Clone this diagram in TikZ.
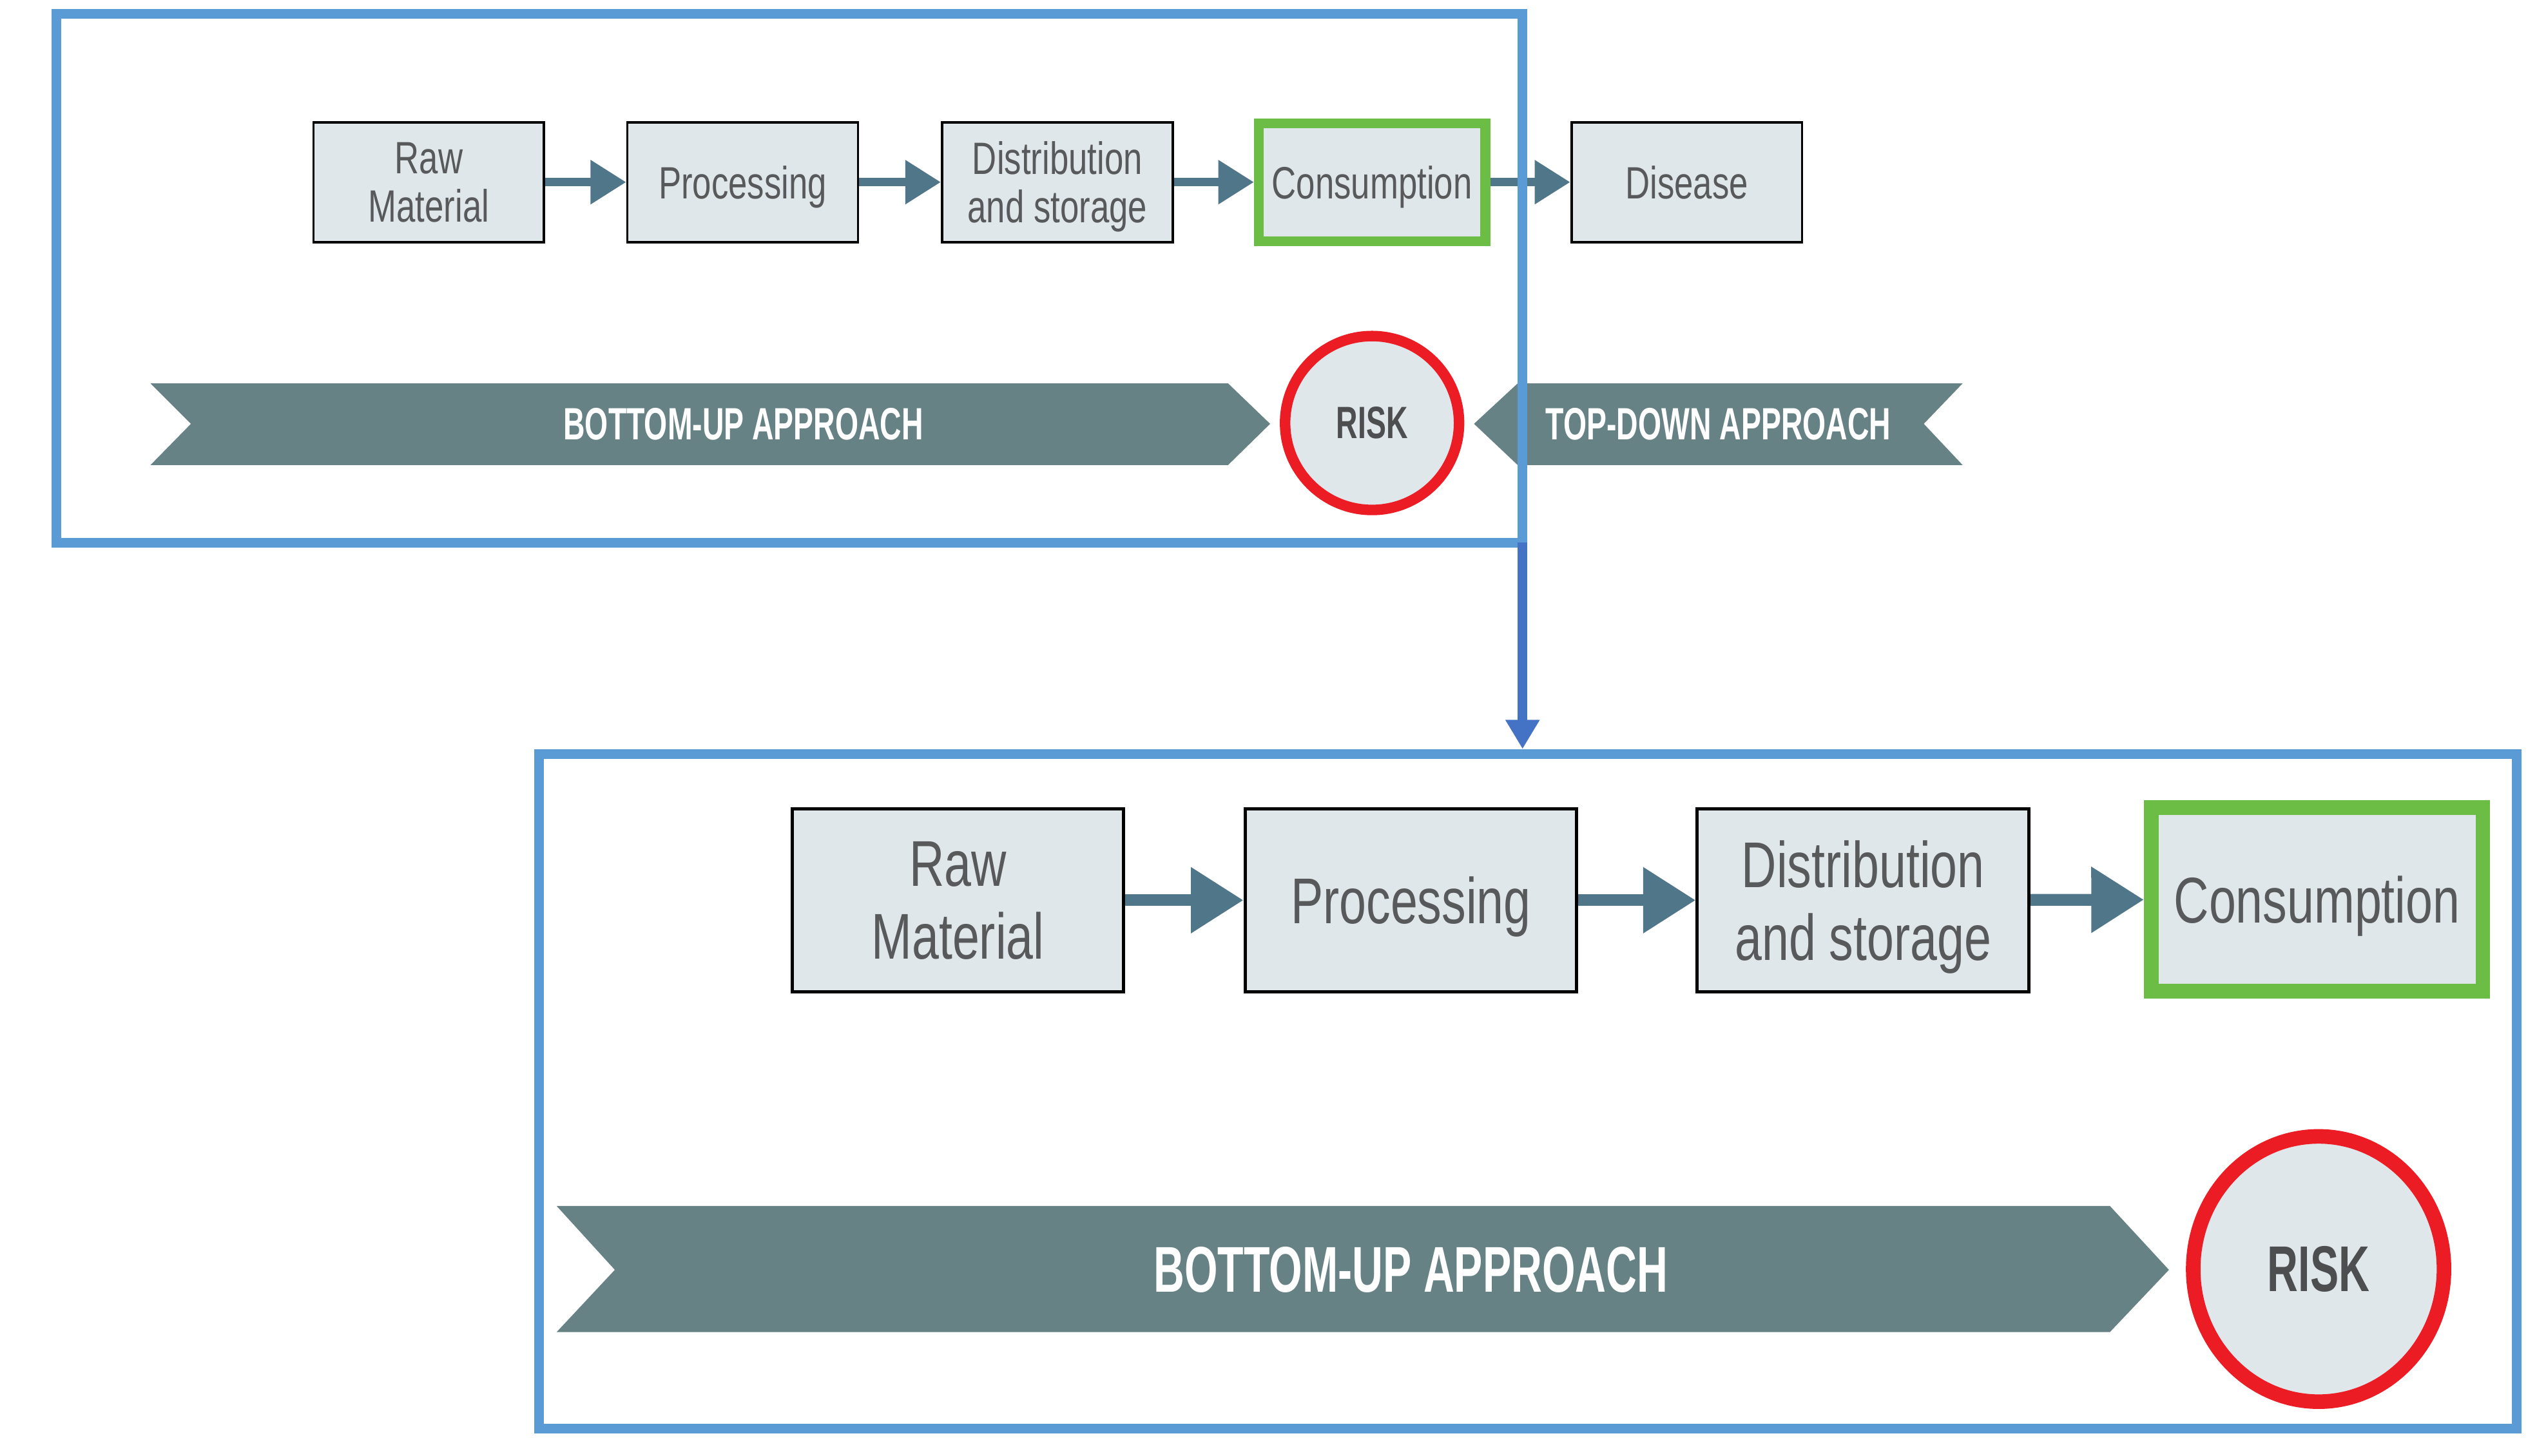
\documentclass[tikz,border=0pt]{standalone}
\usepackage{fontspec}
\usepackage{tikz}
\usetikzlibrary{arrows.meta,shapes.geometric}
\newfontfamily\stagefont[FakeStretch=0.75]{Liberation Sans}
\newfontfamily\bannerfont[FakeStretch=0.66]{Liberation Sans Bold}
\definecolor{boxfill}{RGB}{224,231,234}
\definecolor{boxtext}{RGB}{88,89,91}
\definecolor{risktext}{RGB}{77,78,80}
\definecolor{riskred}{RGB}{236,28,36}
\definecolor{focusgreen}{RGB}{108,189,69}
\definecolor{bannerteal}{RGB}{102,130,132}
\definecolor{flowblue}{RGB}{80,118,137}
\definecolor{frameblue}{RGB}{91,155,213}
\definecolor{linkblue}{RGB}{68,114,196}

\begin{document}
\begin{tikzpicture}[x=1pt,y=1pt,yscale=-1,
  stage/.style={draw=black, line width=1.5pt, fill=boxfill, text=boxtext, align=center, inner sep=0pt,
    text depth=0pt, minimum width=142.5pt, minimum height=74pt, font=\stagefont\fontsize{28}{30}\selectfont},
  stagebig/.style={stage, line width=2pt, minimum width=205pt, minimum height=113pt,
    font=\stagefont\fontsize{40}{45}\selectfont},
  focus/.style={draw=focusgreen, line width=6pt, minimum width=140pt, minimum height=73pt},
  focusbig/.style={draw=focusgreen, line width=9pt, minimum width=205pt, minimum height=113.5pt},
  risk/.style={circle, draw=riskred, line width=6.5pt, fill=boxfill, text=risktext, inner sep=0pt,
    minimum size=107.5pt, font=\bannerfont\fontsize{28}{30}\selectfont},
  riskbig/.style={ellipse, draw=riskred, line width=9pt, fill=boxfill, text=risktext, inner sep=0pt,
    minimum width=155pt, minimum height=164pt, font=\bannerfont\fontsize{40}{44}\selectfont},
  bannertext/.style={text=white, inner sep=0pt, font=\bannerfont\fontsize{28}{30}\selectfont},
  bannertextbig/.style={bannertext, font=\bannerfont\fontsize{40}{44}\selectfont},
  flow/.style={draw=flowblue, line width=5.3pt, -{Triangle[length=22pt,width=26pt]}},
  flowbig/.style={draw=flowblue, line width=7.3pt, -{Triangle[length=32.5pt,width=39pt]}},
  frame/.style={draw=frameblue, line width=6pt, inner sep=0pt, outer sep=0pt},
  link/.style={draw=linkblue, line width=6pt, shorten >=3pt, -{Triangle[length=18pt,width=20pt]}}
]
\path[use as bounding box, fill=white] (0,0) rectangle (1568,900);

%Banners: upper stage
\fill[bannerteal] (93,237) -- (759,237) -- (785,262) -- (759,287.5) -- (93,287.5) -- (118,262) -- cycle;
\fill[bannerteal] (911,262) -- (938,237) -- (1213,237) -- (1189,262) -- (1213,287.5) -- (938,287.5) -- cycle;
\node[bannertext] (bu1) at (459.5,262) {BOTTOM-UP APPROACH};
\node[bannertext] (td1) at (1062,262) {TOP-DOWN APPROACH};

%Banner: lower stage
\fill[bannerteal] (344,745.5) -- (1304,745.5) -- (1340.5,785) -- (1304,823.5) -- (344,823.5) -- (380,785) -- cycle;
\node[bannertextbig] (bu2) at (872,785) {BOTTOM-UP APPROACH};

%Chain: upper stage
\node[stage] (raw1) at (265,112.6) {Raw\\Material};
\node[stage] (proc1) at (459,112.6) {Processing};
\node[stage] (dist1) at (653.5,112.6) {Distribution\\and storage};
\node[stage, focus] (cons1) at (848,112.6) {Consumption};
\node[stage] (dis1) at (1042.5,112.6) {Disease};
\foreach \a/\b in {raw1/proc1, proc1/dist1, dist1/cons1, cons1/dis1}
  \draw[flow] (\a) -- (\b);
\node[risk] (risk1) at (848,261.5) {RISK};

%Chain: lower stage
\node[stagebig] (raw2) at (592,556.5) {Raw\\Material};
\node[stagebig] (proc2) at (872,556.5) {Processing};
\node[stagebig] (dist2) at (1151.5,556.5) {Distribution\\and storage};
\node[stagebig, focusbig] (cons2) at (1432,556) {Consumption};
\foreach \a/\b in {raw2/proc2, proc2/dist2, dist2/cons2}
  \draw[flowbig] (\a) -- (\b);
\node[riskbig] (risk2) at (1433,784.5) {RISK};

%Frames and zoom link
\node[frame, minimum width=906.2pt, minimum height=327.1pt] (upper) at (487.9,171.95) {};
\node[frame, minimum width=1222.5pt, minimum height=417pt] (lower) at (944.25,674.5) {};
\draw[link] (upper.south east) -- (upper.south east |- lower.north);

\end{tikzpicture}
\end{document}
